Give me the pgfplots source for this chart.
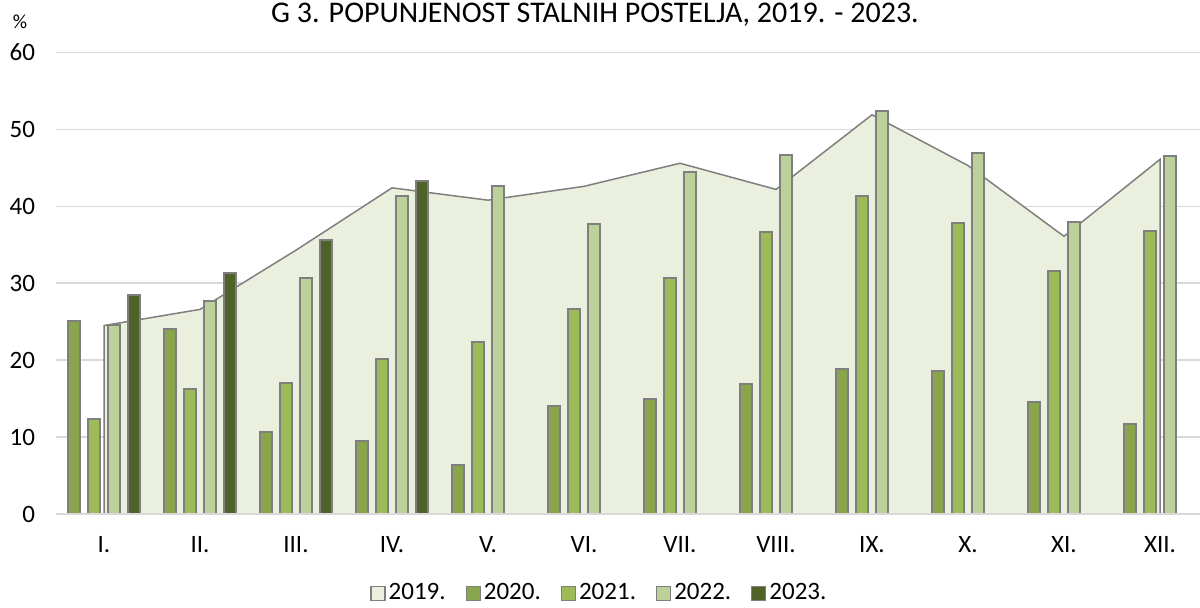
\documentclass[border=0pt]{standalone}
\usepackage{pgfplots}
\pgfplotsset{compat=1.18}
\usepackage{fontspec}
\setmainfont{Carlito}
\definecolor{c19}{HTML}{EBF0DE}
\definecolor{c20}{HTML}{8AA64D}
\definecolor{c21}{HTML}{9DBB59}
\definecolor{c22}{HTML}{BCD09A}
\definecolor{c23}{HTML}{4F6228}
\definecolor{edge}{HTML}{7F7F7F}
\definecolor{gridc}{HTML}{D9D9D9}
\begin{document}
\begin{tikzpicture}[font=\fontsize{12.5}{15}\selectfont]
\useasboundingbox (0,0) rectangle (600pt,304pt);
\begin{axis}[
  at={(28pt,47pt)}, anchor=south west,
  scale only axis, width=572pt, height=230.75pt,
  xmin=-0.5, xmax=11.4167, ymin=0, ymax=60,
  ytick={0,10,...,60},
  xtick={0,...,11},
  xticklabels={I.,II.,III.,IV.,V.,VI.,VII.,VIII.,IX.,X.,XI.,XII.},
  major tick length=0pt,
  axis line style={draw=none},
  ymajorgrids, grid style={draw=gridc, line width=0.75pt},
  /pgf/number format/assume math mode=true,
  yticklabel style={anchor=east, xshift=-7pt},
  xticklabel style={anchor=north, yshift=-7.5pt},
  legend image code/.code={\draw[#1, line width=0.6pt] (0pt,-3.5pt) rectangle (7pt,3.5pt);},
  legend columns=5,
  legend style={draw=none, fill=none, at={(0.4755,-0.172)}, anchor=center,
    /tikz/every even column/.append style={column sep=8.5pt},
    nodes={inner sep=1.5pt}},
]
\addlegendimage{fill=c19, draw=edge}
\addlegendentry{2019.}
\addlegendimage{fill=c20, draw=edge}
\addlegendentry{2020.}
\addlegendimage{fill=c21, draw=edge}
\addlegendentry{2021.}
\addlegendimage{fill=c22, draw=edge}
\addlegendentry{2022.}
\addlegendimage{fill=c23, draw=edge}
\addlegendentry{2023.}

% 2019 area
\addplot[fill=c19, draw=edge, line width=0.75pt, forget plot] coordinates {
(0,24.5) (1,26.6) (2,34.3) (3,42.4) (4,40.8) (5,42.6) (6,45.6) (7,42.2) (8,51.9) (9,45.3) (10,36.1) (11,46.1)
} \closedcycle;

% 2020
\addplot[ybar, bar width=0.125, bar shift=-0.3125, fill=c20, draw=edge, line width=1pt, forget plot] coordinates {
(0,25.1) (1,24.1) (2,10.7) (3,9.5) (4,6.4) (5,14.0) (6,14.9) (7,16.9) (8,18.9) (9,18.6) (10,14.6) (11,11.7)
};
% 2021
\addplot[ybar, bar width=0.125, bar shift=-0.1042, fill=c21, draw=edge, line width=1pt, forget plot] coordinates {
(0,12.4) (1,16.3) (2,17.0) (3,20.2) (4,22.3) (5,26.7) (6,30.7) (7,36.6) (8,41.3) (9,37.8) (10,31.6) (11,36.8)
};
% 2022
\addplot[ybar, bar width=0.125, bar shift=0.1042, fill=c22, draw=edge, line width=1pt, forget plot] coordinates {
(0,24.6) (1,27.7) (2,30.7) (3,41.4) (4,42.7) (5,37.7) (6,44.4) (7,46.7) (8,52.4) (9,46.9) (10,38.0) (11,46.6)
};
% 2023
\addplot[ybar, bar width=0.125, bar shift=0.3125, fill=c23, draw=edge, line width=1pt, forget plot] coordinates {
(0,28.5) (1,31.3) (2,35.6) (3,43.3)
};
\draw[gridc, line width=0.75pt] (axis cs:-0.5,0) -- (axis cs:11.4167,0);
\end{axis}
\node[anchor=base, font=\fontsize{15}{18}\selectfont] at (297.5pt,292.5pt) {G 3. POPUNJENOST STALNIH POSTELJA, 2019. - 2023.};
\node[font=\fontsize{10}{12}\selectfont] at (10pt,293pt) {\%};
\end{tikzpicture}
\end{document}
